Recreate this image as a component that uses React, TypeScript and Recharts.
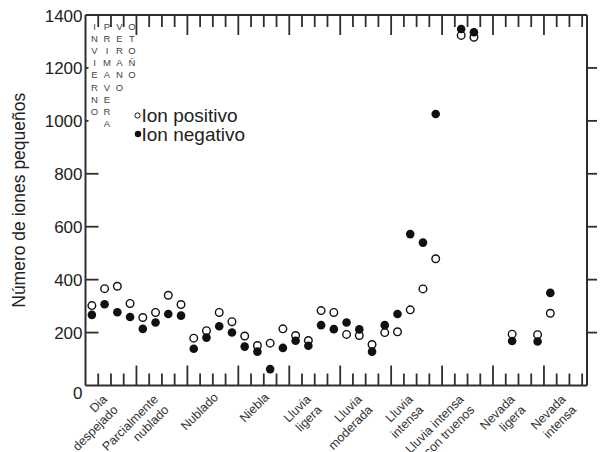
import { ScatterChart, Scatter, XAxis, YAxis, ReferenceLine, Legend } from 'recharts';

// 10 weather groups, 4 seasonal slots each (invierno, primavera, verano, otoño)
const grupos = [
  ['Dia', 'despejado'],
  ['Parcialmente', 'nublado'],
  ['Nublado'],
  ['Niebla'],
  ['Lluvia', 'ligera'],
  ['Lluvia', 'moderada'],
  ['Lluvia', 'intensa'],
  ['Lluvia intensa', 'con truenos'],
  ['Nevada', 'ligera'],
  ['Nevada', 'intensa'],
];

const estaciones = ['INVIERNO', 'PRIMAVERA', 'VERANO', 'OTOÑO'];

const ionPositivo = [
  302, 366, 375, 310,
  257, 276, 341, 306,
  179, 207, 276, 241,
  187, 151, 160, 214,
  189, 170, 283, 276,
  193, 189, 155, 200,
  203, 286, 365, 479,
  null, 1323, 1316, null,
  null, 194, null, 192,
  273, null, null, null,
];

const ionNegativo = [
  267, 307, 277, 259,
  214, 238, 270, 264,
  139, 181, 224, 200,
  147, 128, 62, 142,
  169, 150, 228, 213,
  238, 212, 128, 228,
  270, 572, 540, 1026,
  null, 1347, 1335, null,
  null, 168, null, 166,
  350, null, null, null,
];

const yTicks = [0, 200, 400, 600, 800, 1000, 1200, 1400];
const xTicks = Array.from({ length: 40 }, (_, k) => k);

const X_MAX = 39.38;
const Y_MAX = 1400;
const TOP = 15;
const RIGHT = 587;
const INK = '#2e2e2e';
const FONT = '"Liberation Sans", Arial, sans-serif';

// data units per pixel, for tick lengths
const PX_X = X_MAX / (RIGHT - 85.5);
const PX_Y = Y_MAX / (385.5 - TOP);

const toPoints = (vals: (number | null)[]) =>
  vals.flatMap((v, i) => (v == null ? [] : [{ x: i + 0.5, y: v }]));

const positivos = toPoints(ionPositivo);
const negativos = toPoints(ionNegativo);

const XTick = ({ x, y, payload }: any) => {
  const k = payload.value as number;
  const lines = k % 4 === 2 ? grupos[(k - 2) / 4] : null;
  if (!lines) return <g />;
  const two = lines.length > 1;
  const ax = two ? x - 3 : x + 6;
  const ay = two ? y + 14.5 : y + 12.5;
  return (
    <text
      transform={`translate(${ax},${ay}) rotate(-45)`}
      textAnchor="end"
      fontSize={12.5}
      fontFamily={FONT}
      fill="#333"
    >
      {lines.map((l, i) => (
        <tspan key={i} x={0} dy={i === 0 ? 0 : 15}>
          {l}
        </tspan>
      ))}
    </text>
  );
};

const YTick = ({ x, y, payload }: any) => {
  const v = payload.value as number;
  return (
    <text
      x={x - 3}
      y={v === 0 ? y + 8 : y + 1}
      textAnchor="end"
      dominantBaseline="central"
      fontSize={17}
      fontFamily={FONT}
      fill="#222"
    >
      {v}
    </text>
  );
};

const YLabel = ({ viewBox }: any) => {
  const cy = viewBox.y + viewBox.height / 2;
  return (
    <text
      transform={`translate(25,${cy}) rotate(-90)`}
      textAnchor="middle"
      fontSize={17.5}
      fontFamily={FONT}
      fill="#222"
    >
      Número de iones pequeños
    </text>
  );
};

const IonLegend = () => (
  <svg width={140} height={50} style={{ display: 'block' }}>
    <circle cx={7.5} cy={15.5} r={2.6} fill="#fff" stroke="#111" strokeWidth={1} />
    <text x={11.5} y={21.7} fontSize={19} fontFamily={FONT} fill="#222">
      Ion positivo
    </text>
    <circle cx={8} cy={34} r={3.2} fill="#111" />
    <text x={11.5} y={41} fontSize={19} fontFamily={FONT} fill="#222">
      Ion negativo
    </text>
  </svg>
);

const OpenDot = ({ cx, cy }: any) => (
  <circle cx={cx} cy={cy} r={3.8} fill="#fff" stroke="#111" strokeWidth={1.4} />
);
const FilledDot = ({ cx, cy }: any) => <circle cx={cx} cy={cy} r={4.3} fill="#111" />;

const seasonX = [94.5, 107, 119.5, 132];

// inward tick marks on bottom/top (slot boundaries) and left, outward on right
const xTickMarks = xTicks
  .filter((k) => k > 0)
  .flatMap((k) => {
    const len = (k % 4 === 0 ? 20 : 12) * PX_Y;
    return [
      <ReferenceLine key={`b${k}`} segment={[{ x: k, y: 0 }, { x: k, y: len }]} stroke={INK} strokeWidth={1.8} ifOverflow="visible" />,
      <ReferenceLine key={`t${k}`} segment={[{ x: k, y: Y_MAX - len }, { x: k, y: Y_MAX }]} stroke={INK} strokeWidth={1.8} ifOverflow="visible" />,
    ];
  });

const yTickMarks = yTicks
  .filter((v) => v > 0 && v < Y_MAX)
  .flatMap((v) => [
    <ReferenceLine key={`l${v}`} segment={[{ x: 0, y: v }, { x: 13 * PX_X, y: v }]} stroke={INK} strokeWidth={1.8} ifOverflow="visible" />,
    <ReferenceLine key={`r${v}`} segment={[{ x: X_MAX, y: v }, { x: X_MAX + 10 * PX_X, y: v }]} stroke={INK} strokeWidth={1.8} ifOverflow="visible" />,
  ]);

export default function App() {
  return (
    <div style={{ position: 'absolute', left: 0, top: 0, width: 600, height: 452, background: '#fff' }}>
      <ScatterChart width={600} height={452} margin={{ top: TOP, right: 600 - RIGHT, bottom: 0, left: 0 }}>
        <XAxis
          dataKey="x"
          type="number"
          domain={[0, X_MAX]}
          ticks={xTicks}
          interval={0}
          tickSize={0}
          tickMargin={0}
          height={66.5}
          axisLine={{ stroke: INK, strokeWidth: 2 }}
          tickLine={false}
          tick={<XTick />}
          allowDataOverflow
        />
        <YAxis
          dataKey="y"
          type="number"
          domain={[0, Y_MAX]}
          ticks={yTicks}
          interval={0}
          tickSize={0}
          tickMargin={0}
          width={85.5}
          axisLine={{ stroke: INK, strokeWidth: 2 }}
          tickLine={false}
          tick={<YTick />}
          label={<YLabel />}
        />
        <ReferenceLine y={Y_MAX} stroke={INK} strokeWidth={2} ifOverflow="visible" />
        <ReferenceLine x={X_MAX} stroke={INK} strokeWidth={2} ifOverflow="visible" />
        {xTickMarks}
        {yTickMarks}
        <Legend
          layout="vertical"
          align="center"
          verticalAlign="middle"
          content={<IonLegend />}
          wrapperStyle={{ left: 130, top: 100, width: 140, height: 50 }}
        />
        <Scatter name="Ion positivo" data={positivos} shape={<OpenDot />} isAnimationActive={false} />
        <Scatter name="Ion negativo" data={negativos} shape={<FilledDot />} isAnimationActive={false} />
      </ScatterChart>
      <svg
        width={600}
        height={452}
        style={{ position: 'absolute', left: 0, top: 0, pointerEvents: 'none' }}
      >
        <rect x={88.5} y={36} width={43} height={93} fill="#fff" />
        {estaciones.map((s, c) =>
          Array.from(s).map((ch, j) => (
            <text
              key={`${c}-${j}`}
              x={seasonX[c]}
              y={30 + j * 12.1}
              textAnchor="middle"
              fontSize={9.5}
              fontFamily={FONT}
              fill="#444"
            >
              {ch}
            </text>
          ))
        )}
      </svg>
    </div>
  );
}
